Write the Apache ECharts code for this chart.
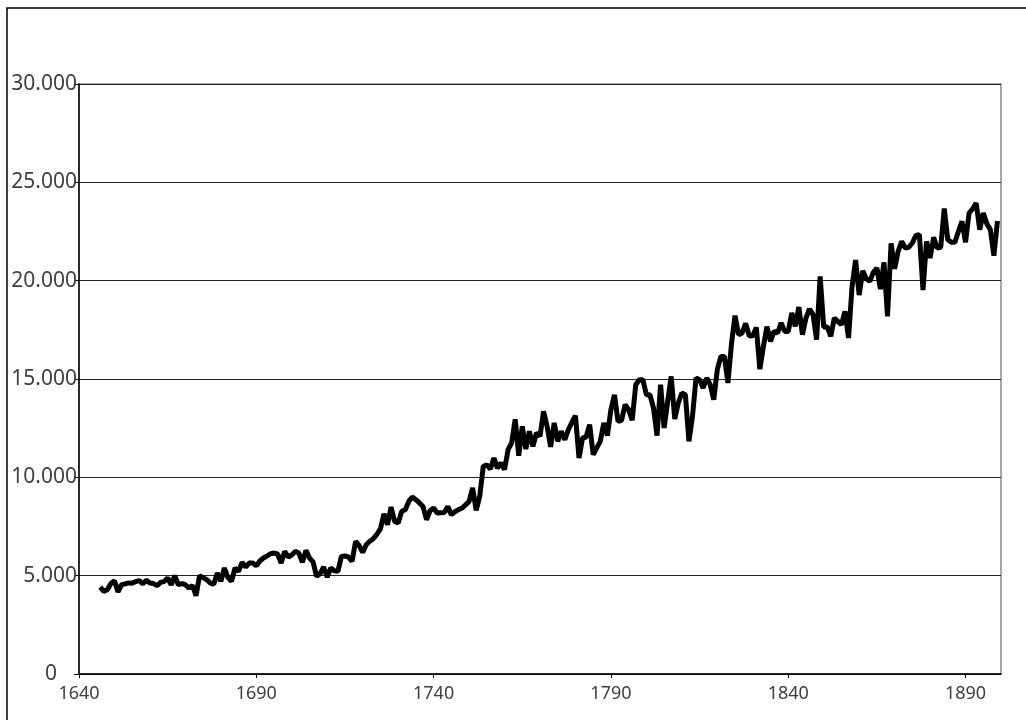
<!DOCTYPE html>
<html>
<head>
<meta charset="utf-8">
<script src="https://cdn.jsdelivr.net/npm/echarts@6/dist/echarts.min.js"></script>
<style>
html,body{margin:0;padding:0;background:#fff;}
#chart{width:1026px;height:720px;}
</style>
</head>
<body>
<div id="chart"></div>
<script>
const startYear = 1646;
const values = [
4420,4200,4290,4600,4745,4170,4540,4580,4630,4620,
4700,4745,4590,4760,4630,4600,4490,4660,4700,4880,
4540,5000,4540,4600,4540,4370,4500,3980,5000,4900,
4800,4630,4560,5135,4710,5390,4900,4710,5390,5220,
5675,5440,5640,5650,5500,5750,5900,6000,6115,6150,
6100,5645,6235,5950,6050,6235,6150,5675,6285,5900,
5700,4965,5100,5440,4930,5390,5250,5220,5980,6000,
5950,5730,6745,6525,6185,6575,6750,6880,7100,7375,
8150,7590,8490,7760,7680,8270,8355,8775,9000,8865,
8700,8520,7845,8300,8440,8185,8200,8215,8520,8100,
8250,8355,8440,8600,8775,9460,8320,9030,10555,10640,
10420,10985,10470,10730,10390,11405,11745,12950,11100,12590,
11440,12340,11575,12255,12100,13350,12590,11545,12765,11830,
12340,11915,12425,12800,13135,10985,12000,12050,12680,11150,
11500,11830,12765,12120,13440,14200,12845,12900,13695,13440,
12900,14710,14965,14965,14200,14200,13525,12120,14710,12510,
13860,15130,12965,13780,14290,14200,11830,13100,15050,14965,
14545,15050,14710,13950,15475,16150,16150,14800,16800,18220,
17255,17340,17830,17185,17200,17620,15500,16660,17660,16915,
17420,17340,17850,17420,17420,18355,17680,18660,17255,18100,
18560,18270,17000,20220,17645,17645,17170,18100,17930,17760,
18440,17085,19710,21050,19270,20500,20100,19965,20420,20645,
19570,20930,18185,21900,20600,21490,22000,21660,21700,21915,
22300,22340,19520,22000,21150,22200,21660,21700,23670,22085,
21950,21950,22510,23015,21950,23440,23650,23950,22595,23440,
22900,22595,21270,23040
];
const years = values.map((v, i) => startYear + i);
const xTicks = [1640, 1690, 1740, 1790, 1840, 1890];
const yTicks = [0, 5000, 10000, 15000, 20000, 25000, 30000];

const seriesData = years.map((y, i) => [y, values[i]]);
const fmt = v => v === 0 ? '0' : (v / 1000).toFixed(3);

const chart = echarts.init(document.getElementById('chart'));
chart.setOption({
  animation: false,
  backgroundColor: '#fff',
  textStyle: { fontFamily: 'Noto Sans' },
  graphic: [{
    type: 'rect', silent: true, z: -1,
    shape: { x: 7, y: 8, width: 1060, height: 760 },
    style: { fill: 'none', stroke: '#000', lineWidth: 1.5 }
  }],
  grid: {
    left: 79, right: 25, top: 84, bottom: 46,
    show: true, borderColor: '#8a8a8a', borderWidth: 1.5
  },
  xAxis: {
    type: 'value', min: 1640, max: 1900, interval: 50,
    axisLine: { show: true, lineStyle: { color: '#000', width: 1.5 } },
    axisTick: { show: true, length: 4, lineStyle: { color: '#000' }, customValues: xTicks },
    axisLabel: {
      customValues: xTicks, color: '#404040', fontSize: 18, margin: 11, fontFamily: 'Noto Sans',
      formatter: v => String(v)
    },
    splitLine: { show: false }
  },
  yAxis: {
    type: 'value', min: 0, max: 30000, interval: 5000,
    axisLine: { show: true, lineStyle: { color: '#000', width: 1.5 } },
    axisTick: { show: true, length: 5, lineStyle: { color: '#000' } },
    axisLabel: {
      color: '#404040', fontSize: 21, margin: 2, fontFamily: 'Noto Sans',
      formatter: v => v === 0 ? '{z|0}' : fmt(v),
      rich: { z: { fontSize: 21, color: '#404040', fontFamily: 'Noto Sans', padding: [0, 20, 0, 0] } }
    },
    splitLine: { show: true, lineStyle: { color: '#222', width: 1 } }
  },
  series: [{
    type: 'line',
    data: seriesData,
    showSymbol: false,
    symbol: 'none',
    lineStyle: { color: '#000', width: 5, join: 'bevel' },
    z: 5
  }]
});
</script>
</body>
</html>
